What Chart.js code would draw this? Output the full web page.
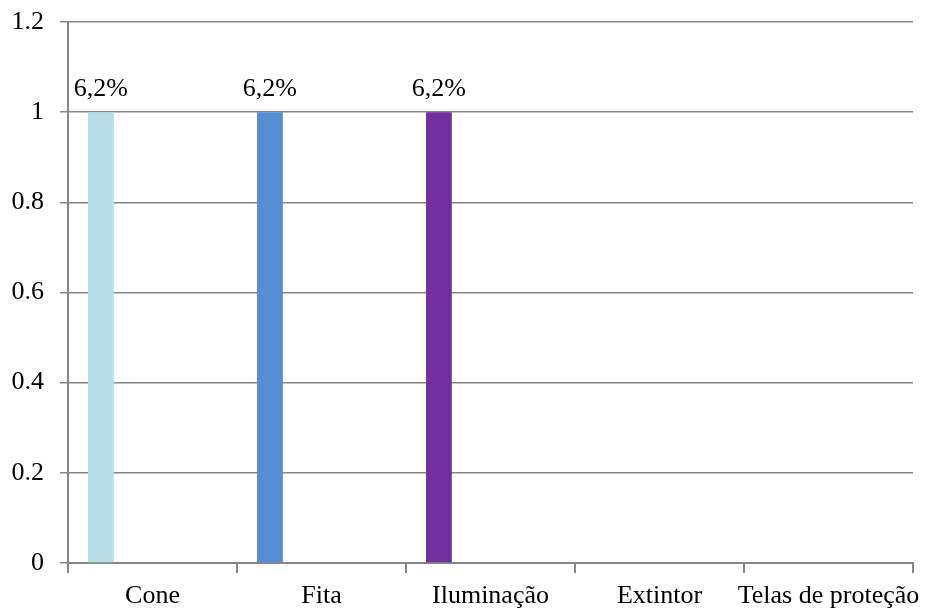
<!DOCTYPE html>
<html>
<head>
<meta charset="utf-8">
<script src="https://cdn.jsdelivr.net/npm/chart.js@4/dist/chart.umd.min.js"></script>
<style>
  html, body { margin: 0; padding: 0; background: #ffffff; }
  #wrap { width: 927px; height: 609px; position: relative; }
</style>
</head>
<body>
<div id="wrap"><canvas id="c" width="927" height="609"></canvas></div>
<script>
// Equipment categories and how many times each was cited
const categories = ['Cone', 'Fita', 'Iluminação', 'Extintor', 'Telas de proteção'];
const counts = [1, 1, 1, 0, 0];
const percentLabels = ['6,2%', '6,2%', '6,2%', '', ''];
const barColors = ['#B7DDE8', '#558ED5', '#7030A0', '#F79646', '#4BACC6'];
const yTicks = [0, 0.2, 0.4, 0.6, 0.8, 1, 1.2];

const FONT = "'Liberation Serif', 'Times New Roman', serif";
const FONT_SIZE = 26;
const AXIS_GREY = '#868686';

// Draws the percentage text above each bar of the first dataset
const valueLabels = {
  id: 'valueLabels',
  afterDatasetsDraw(chart) {
    const ctx = chart.ctx;
    const meta = chart.getDatasetMeta(0);
    ctx.save();
    ctx.font = FONT_SIZE + 'px ' + FONT;
    ctx.fillStyle = '#000000';
    ctx.textAlign = 'center';
    ctx.textBaseline = 'alphabetic';
    meta.data.forEach((bar, i) => {
      const txt = percentLabels[i];
      if (!txt) return;
      ctx.fillText(txt, bar.x, bar.y - 16);
    });
    ctx.restore();
  }
};

// Four empty series keep the first series in the leftmost slot of each group
const emptySeries = [1, 2, 3, 4].map(() => ({
  data: categories.map(() => null),
  backgroundColor: 'rgba(0,0,0,0)',
  categoryPercentage: 0.763,
  barPercentage: 1.0
}));

new Chart(document.getElementById('c'), {
  type: 'bar',
  data: {
    labels: categories,
    datasets: [{
      data: counts,
      backgroundColor: barColors,
      borderWidth: 0,
      categoryPercentage: 0.763,
      barPercentage: 1.0
    }, ...emptySeries]
  },
  options: {
    responsive: false,
    animation: false,
    devicePixelRatio: 1,
    layout: { padding: { top: 22, right: 14, left: 0, bottom: 0 } },
    plugins: {
      legend: { display: false },
      tooltip: { enabled: false }
    },
    scales: {
      x: {
        offset: true,
        grid: {
          offset: true,
          drawOnChartArea: false,
          drawTicks: true,
          tickLength: 10,
          color: AXIS_GREY,
          lineWidth: 2
        },
        border: { color: AXIS_GREY, width: 2 },
        ticks: {
          font: { family: FONT, size: FONT_SIZE },
          color: '#000000',
          padding: 8,
          maxRotation: 0,
          autoSkip: false
        },
        afterFit(scale) {
          scale.height = 46;
          scale.paddingLeft = 0;
          scale.paddingRight = 0;
        }
      },
      y: {
        min: 0,
        max: 1.2,
        afterBuildTicks(scale) {
          scale.ticks = yTicks.map(v => ({ value: v }));
        },
        grid: {
          color: AXIS_GREY,
          lineWidth: 1.5,
          drawTicks: true,
          tickLength: 8
        },
        border: { color: AXIS_GREY, width: 2 },
        ticks: {
          font: { family: FONT, size: FONT_SIZE },
          color: '#000000',
          padding: 16,
          callback: v => String(Number(Number(v).toFixed(1)))
        },
        afterFit(scale) {
          scale.width = 68;
          scale.paddingTop = 0;
          scale.paddingBottom = 0;
        }
      }
    }
  },
  plugins: [valueLabels]
});
</script>
</body>
</html>
